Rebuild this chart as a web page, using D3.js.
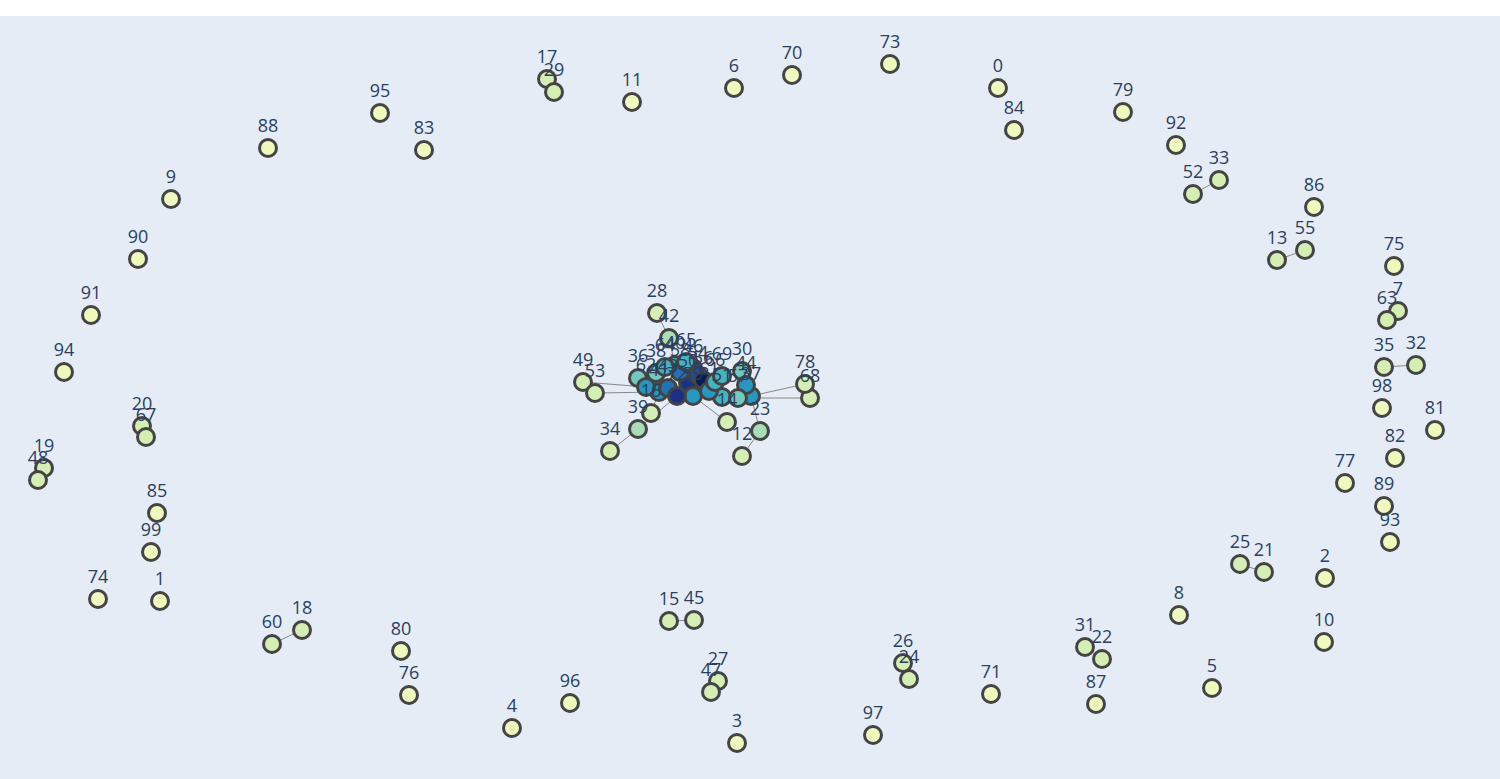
<!DOCTYPE html>
<html>
<head>
<meta charset="utf-8">
<script src="https://cdn.jsdelivr.net/npm/d3@7"></script>
<style>
  html, body { margin: 0; padding: 0; background: #fff; }
  svg { display: block; }
</style>
</head>
<body>
<div id="graph"></div>
<script>
// Node positions from the spring layout (index = node id)
const nodeX = [998, 160, 1325, 737, 512, 1212, 734, 1398, 1179, 171,
  1324, 632, 742, 1277, 727, 669, 651, 547, 302, 44,
  142, 1264, 1102, 760, 909, 1240, 903, 718, 657, 554,
  742, 1085, 1416, 1219, 610, 1384, 638, 751, 656, 638,
  675, 659, 669, 668, 746, 694, 693, 711, 38, 583,
  688, 722, 1193, 595, 698, 1305, 703, 738, 680, 693,
  272, 709, 646, 1387, 665, 686, 715, 146, 810, 722,
  792, 991, 677, 890, 98, 1394, 409, 1345, 805, 1123,
  401, 1435, 1395, 424, 1014, 157, 1314, 1096, 268, 1384,
  138, 91, 1176, 1390, 64, 380, 570, 873, 1382, 151];

const nodeY = [88, 601, 578, 743, 728, 688, 88, 311, 615, 199,
  642, 102, 456, 260, 422, 621, 413, 79, 630, 468,
  426, 572, 659, 431, 679, 564, 663, 681, 313, 92,
  371, 647, 365, 180, 451, 367, 378, 396, 373, 429,
  365, 392, 338, 388, 385, 620, 368, 692, 480, 382,
  383, 397, 194, 393, 375, 250, 380, 398, 372, 396,
  644, 391, 387, 320, 367, 362, 382, 437, 398, 376,
  75, 694, 396, 64, 599, 266, 695, 483, 384, 112,
  651, 430, 458, 150, 130, 513, 207, 704, 148, 506,
  259, 315, 145, 542, 372, 113, 703, 735, 408, 552];

// Number of connections per node (used as marker colour)
const adjacency = [0, 0, 0, 0, 0, 0, 0, 1, 0, 0,
  0, 0, 1, 1, 1, 1, 1, 1, 1, 1,
  1, 1, 1, 2, 1, 1, 1, 1, 1, 1,
  3, 1, 1, 1, 1, 1, 3, 5, 3, 2,
  4, 5, 2, 6, 5, 1, 7, 1, 1, 1,
  8, 4, 1, 1, 7, 1, 9, 3, 6, 5,
  1, 5, 5, 1, 4, 4, 4, 1, 1, 4,
  0, 0, 8, 0, 0, 0, 0, 0, 1, 0,
  0, 0, 0, 0, 0, 0, 0, 0, 0, 0,
  0, 0, 0, 0, 0, 0, 0, 0, 0, 0];

// Edges as [source, target]
const edgeSource = [60, 52, 13, 35, 63, 20, 19, 15, 27, 26, 31, 25, 17,
  49, 53, 34, 39, 16, 28, 42, 14, 12, 23, 78, 68,
  36, 38, 64, 40, 58, 50, 56, 54, 46, 43, 72, 59, 61, 66, 69, 51, 57, 30, 41, 62, 56, 50, 51];
const edgeTarget = [18, 33, 55, 32, 7, 67, 48, 45, 47, 24, 22, 21, 29,
  62, 41, 39, 72, 41, 42, 40, 59, 23, 37, 37, 57,
  62, 64, 40, 58, 50, 56, 54, 46, 65, 72, 59, 61, 66, 69, 30, 57, 44, 44, 43, 43, 61, 72, 61];

const width = 1500, height = 779;
const plotTop = 16;

const svg = d3.select("#graph").append("svg")
  .attr("width", width)
  .attr("height", height);

// plot background
svg.append("rect")
  .attr("x", 0).attr("y", plotTop)
  .attr("width", width).attr("height", height - plotTop)
  .attr("fill", "#e5ecf6");

// layout units map straight onto the page
const x = d3.scaleLinear().domain([0, 1500]).range([0, width]);
const y = d3.scaleLinear().domain([0, 779]).range([0, height]);
const color = d3.scaleSequential(d3.interpolateYlGnBu).domain([-1, 9]);

const nodes = nodeX.map((d, i) => ({ id: i, x: d, y: nodeY[i], adj: adjacency[i] }));
const edges = edgeSource.map((s, i) => ({ s: nodes[s], t: nodes[edgeTarget[i]] }));

// edges
svg.append("g")
  .selectAll("line")
  .data(edges)
  .join("line")
  .attr("x1", d => x(d.s.x)).attr("y1", d => y(d.s.y))
  .attr("x2", d => x(d.t.x)).attr("y2", d => y(d.t.y))
  .attr("stroke", "#888")
  .attr("stroke-width", 1);

// nodes
svg.append("g")
  .selectAll("circle")
  .data(nodes)
  .join("circle")
  .attr("cx", d => x(d.x))
  .attr("cy", d => y(d.y))
  .attr("r", 8.5)
  .attr("fill", d => color(d.adj))
  .attr("stroke", "#444")
  .attr("stroke-width", 3);

// labels on top of all markers
svg.append("g")
  .selectAll("text")
  .data(nodes)
  .join("text")
  .attr("x", d => x(d.x))
  .attr("y", d => y(d.y) - 16)
  .attr("text-anchor", "middle")
  .attr("font-family", "'Open Sans', sans-serif")
  .attr("font-size", 18)
  .attr("fill", "#2a3f5f")
  .text(d => d.id);
</script>
</body>
</html>
